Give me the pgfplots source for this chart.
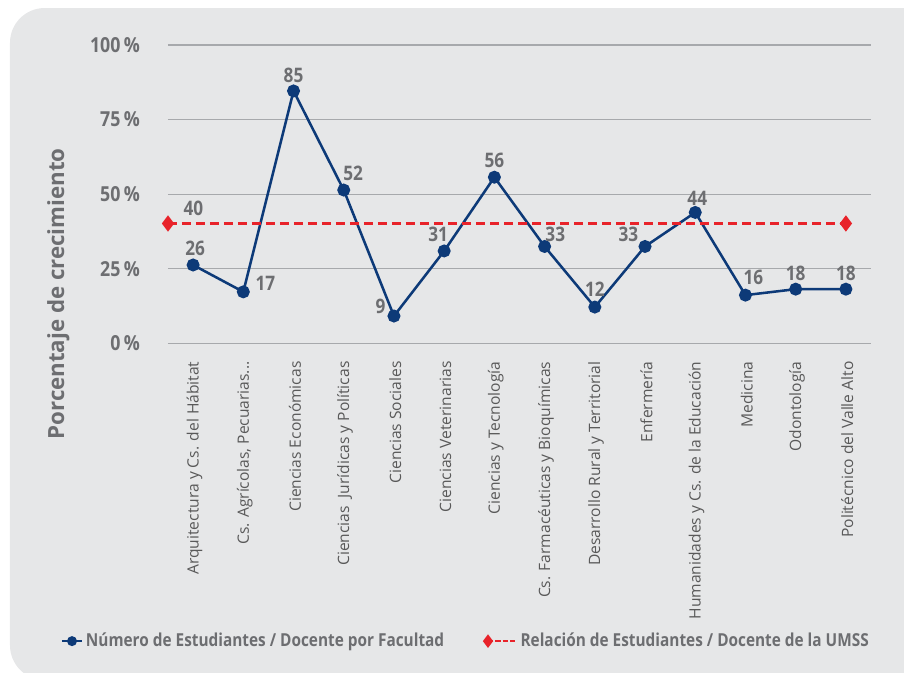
\documentclass[border=0pt]{standalone}
\usepackage{pgfplots}
\usepackage{pgfplotstable}
\pgfplotsset{compat=1.18}
\usepackage{fontspec}
\setmainfont{Open Sans}
\newfontfamily\cond[FakeStretch=0.86]{Open Sans}
\definecolor{bg}{HTML}{E6E7E8}
\definecolor{navy}{HTML}{0D3A78}
\definecolor{rd}{HTML}{E8232A}
\definecolor{lbl}{HTML}{6D6E71}
\definecolor{tk}{HTML}{595959}
\definecolor{gridc}{HTML}{A7A9AC}

\pgfplotsset{
  blueleg/.style={legend image code/.code={\draw[mark indices={2},##1,mark size=2.9pt,line width=1.6pt] plot coordinates {(0cm,0cm) (0.27cm,0cm) (0.54cm,0cm)};}},
  redleg/.style={legend image code/.code={\draw[mark indices={1},##1,mark size=3.8pt,line width=1.6pt,dash pattern=on 4pt off 1.5pt] plot coordinates {(0cm,0cm) (0.38cm,0cm) (0.76cm,0cm)};}},
}

\pgfplotstableread{
x y lab dx dy
1 26.3 26 1.5 12.5
2 17.3 17 16.5 6
3 84.6 85 0 12
4 51.4 52 7 12.5
5 9.2 9 -10 7
6 31.0 31 -4.5 12.5
7 55.7 56 0 12.5
8 32.5 33 8 9
9 12.2 12 0 13.5
10 32.5 33 -12.5 9
11 43.9 44 1.5 10.5
12 16.2 16 6 13
13 18.2 18 0 12
14 18.2 18 0 12
}\facultad

\pgfplotstableread{
x y
0.5 40.2
14 40.2
}\umss

\begin{document}
\begin{tikzpicture}
\clip (-126pt,-247.125pt) rectangle (552pt,257.625pt);
\fill[bg, rounded corners=26pt] (-118.5pt,-252.4pt) rectangle (580pt,251.6pt);
\begin{axis}[
  at={(0,0)}, anchor=south west,
  scale only axis,
  width=527.25pt, height=223.9pt,
  xmin=0.5, xmax=14.5, ymin=0, ymax=100,
  axis x line*=bottom, axis y line*=left,
  y axis line style={draw=none},
  x axis line style={gridc, line width=1pt},
  ymajorgrids, grid style={gridc, line width=0.9pt},
  ytick={0,25,50,75,100},
  yticklabels={0\,\%,25\,\%,50\,\%,75\,\%,100\,\%},
  yticklabel style={font=\cond\bfseries\fontsize{15.5}{17}\selectfont, text=lbl, anchor=east, xshift=-17.5pt},
  ytick style={draw=none},
  xtick={1,2,3,4,5,6,7,8,9,10,11,12,13,14},
  minor xtick={0.5,1.5,2.5,3.5,4.5,5.5,6.5,7.5,8.5,9.5,10.5,11.5,12.5,13.5,14.5},
  major tick length=0pt,
  minor tick length=9pt,
  tick align=outside,
  minor x tick style={gridc, line width=1pt},
  xtick style={draw=none},
  xticklabels={Arquitectura y Cs. del Hábitat, {Cs. Agrícolas, Pecuarias{.}{.}{.}}, Ciencias Económicas, Ciencias\enspace Jurídicas y Políticas, Ciencias Sociales, Ciencias Veterinarias, Ciencias y Tecnología, Cs. Farmacéuticas y Bioquímicas, Desarrollo Rural y Territorial, Enfermería, Humanidades y Cs. de la Educación, Medicina, Odontología, Politécnico del Valle Alto},
  xticklabel style={rotate=90, anchor=east, font=\fontsize{11.7}{13}\selectfont, text=tk, yshift=-1pt, xshift=-10pt},
  ylabel={Porcentaje de crecimiento},
  ylabel style={at={(rel axis cs:-0.156,0.166)}, anchor=center, font=\bfseries\fontsize{16.7}{18}\selectfont, text=lbl},
  legend columns=2,
  legend style={at={(rel axis cs:0.424,-0.997)}, anchor=center, draw=none, fill=none,
    font=\cond\bfseries\fontsize{13.4}{15}\selectfont, text=lbl,
    /tikz/every even column/.append style={column sep=28pt},
    inner sep=0pt},
  legend cell align=left,
]
\addplot[navy, line width=1.9pt, mark=*, mark size=3.9pt, mark options={fill=navy, draw=navy},
  point meta=explicit symbolic,
  visualization depends on={\thisrow{dx}\as\dx},
  visualization depends on={\thisrow{dy}\as\dy},
  nodes near coords,
  every node near coord/.append style={anchor=center, xshift=\dx pt, yshift=\dy pt,
    font=\cond\bfseries\fontsize{15}{17}\selectfont, text=lbl, inner sep=0pt},
  blueleg,
] table[x=x, y=y, meta=lab] {\facultad};
\addlegendentry{Número de Estudiantes / Docente por Facultad}
\addplot[rd, line width=2pt, dash pattern=on 7pt off 3.5pt, mark=diamond*, mark size=4.5pt,
  mark options={solid, fill=rd, draw=rd},
  redleg,
] table[x=x, y=y] {\umss};
\addlegendentry{Relación de Estudiantes / Docente de la UMSS}
\node[font=\cond\bfseries\fontsize{15}{17}\selectfont, text=lbl, inner sep=0pt] at (axis cs:0.5,40.2) [xshift=19pt, yshift=11.5pt] {40};
\end{axis}
\end{tikzpicture}
\end{document}
